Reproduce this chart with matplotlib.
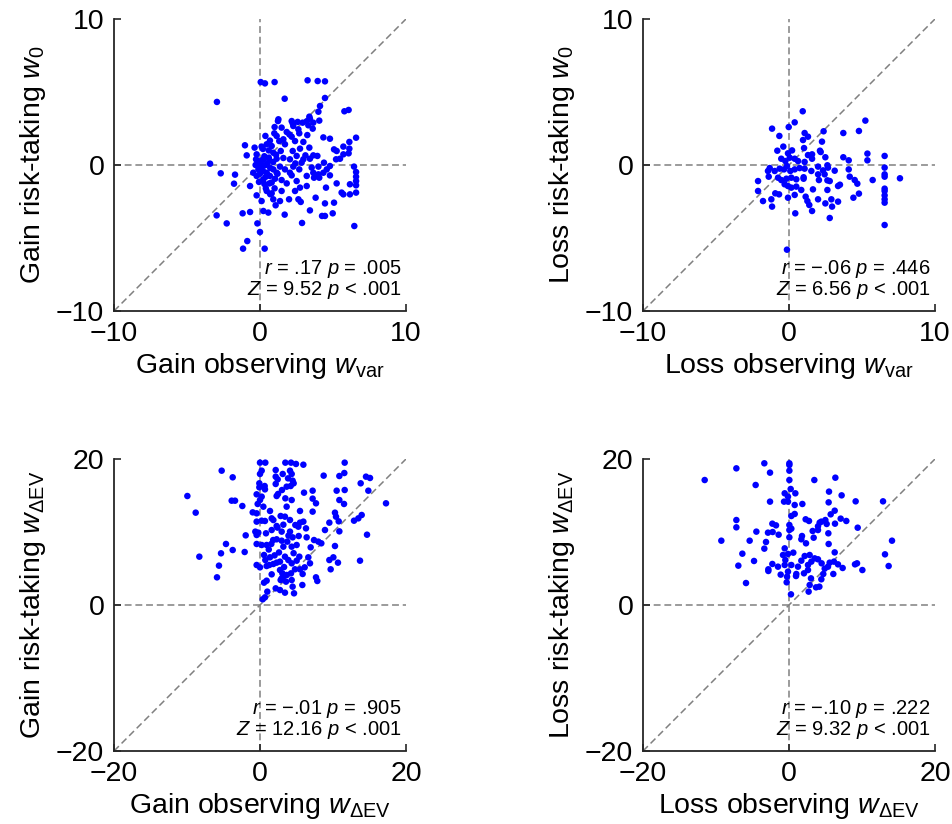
import matplotlib
matplotlib.use('Agg')
from matplotlib import pyplot as plt

plt.rcParams['font.family'] = ['Liberation Sans', 'DejaVu Sans']
plt.rcParams['mathtext.fontset'] = 'custom'
plt.rcParams['mathtext.rm'] = 'Liberation Sans'
plt.rcParams['mathtext.it'] = 'Liberation Sans:italic'
plt.rcParams['mathtext.bf'] = 'Liberation Sans:bold'

# gain: observing w_var vs risk-taking w_0
gain_var_x = [0.05, 0.34, 1.0, 3.26, 3.95, 4.45, -2.95, 1.69, 4.45, 4.11, 4.0, 5.78, 6.07,
              1.26, 1.23, 2.17, 2.24, 2.58, 2.92, 3.2, 3.42, 3.65, 4.06, 3.38, 1.0, 1.48,
              2.28, 2.63, 3.31, 3.61, 0.37, 0.98, 1.14, 1.83, 2.01, 2.17, 2.69, 3.24, 4.34,
              4.79, 6.58, 6.12, 0.68, 0.46, 0.8, 1.32, 1.6, 1.71, 2.4, 2.97, 2.74, 3.38,
              -1.03, -0.37, 0.11, 5.07, 5.25, 5.71, 6.12, 6.07, 5.71, 5.48, 5.21, -0.91,
              -0.23, 0.91, 1.42, 2.24, 2.51, 3.11, 3.65, 3.93, 2.97, 3.42, -0.27, 0.23, 0.64,
              1.14, 1.6, 2.05, 2.42, 2.85, 4.38, 4.79, 6.44, 6.58, 6.58, 6.58, 6.58, 6.16,
              6.58, 6.16, 5.71, -3.42, -2.69, -1.71, -1.78, -0.68, -0.46, -0.11, 0.11, 0.34,
              0.46, 0.68, 0.91, 1.14, 1.37, 1.71, 2.05, 2.28, 2.69, 3.2, 3.65, 4.0, 4.34,
              4.79, 4.06, 3.54, 4.0, 4.57, -0.23, -0.07, 0.23, 0.64, 1.03, 1.48, 1.83, 2.17,
              2.51, 2.74, 3.2, 3.7, 4.52, 5.25, -0.23, 0.11, 0.46, 0.8, 0.91, 1.07, 1.37,
              1.48, 1.99, 2.4, 2.63, 2.79, 3.81, 4.45, 5.07, 5.59, -2.97, -2.28, -1.19,
              -0.68, -0.18, 0.23, 0.57, 1.69, 2.88, 3.42, 4.25, 4.45, 4.98, 6.46, 0.0,
              -0.87, -1.16, 0.32, 0.1, 0.3, 0.5, 0.7, 0.2, 0.4, -0.1, 0.6, 0.9, 1.1, 0.3,
              0.8, 0.0, -0.3, 1.2, 0.6, 0.2, 1.0, 0.4, 0.7]
gain_w0_y = [5.68, 5.59, 5.68, 5.8, 5.75, 5.73, 4.32, 4.54, 4.59, 4.04, 3.65, 3.68, 3.77,
             3.13, 3.01, 3.01, 2.85, 2.95, 2.9, 2.99, 3.17, 2.9, 3.04, 3.31, 2.6, 2.56,
             2.67, 2.44, 2.72, 2.49, 1.99, 2.17, 1.99, 2.26, 2.1, 1.94, 2.17, 2.05, 1.89,
             1.8, 1.87, 1.58, 1.67, 1.42, 1.3, 1.64, 1.76, 1.42, 1.64, 1.58, 1.12, 1.19,
             1.35, 1.19, 1.26, 1.07, 0.96, 1.26, 1.12, 0.8, 0.73, 0.43, 0.39, 0.66, 0.73,
             0.84, 0.96, 0.96, 0.62, 0.66, 0.66, 0.62, 0.39, 0.43, 0.39, 0.39, 0.34, 0.43,
             0.48, 0.39, 0.11, 0.16, 0.16, -0.07, -0.11, -0.48, -0.8, -1.1, -1.39, -1.32,
             -1.89, -2.01, -2.01, 0.09, -0.57, -0.66, -1.28, -1.44, -0.53, -0.3, -0.07,
             -0.02, -0.53, -0.75, -0.3, -0.53, -0.11, -0.3, -0.53, -0.11, -0.3, -0.75,
             -0.53, -0.64, -0.53, -0.71, -0.87, -0.18, -0.11, -0.3, -0.75, -1.16, -0.98,
             -1.26, -0.94, -1.03, -1.26, -0.71, -1.1, -1.55, -1.44, -0.87, -1.55, -1.26,
             -2.08, -2.47, -1.78, -1.94, -2.35, -2.76, -2.47, -1.78, -2.35, -1.78, -2.35,
             -2.53, -2.24, -2.63, -2.58, -1.89, -3.45, -4.0, -3.31, -3.22, -4.0, -3.15,
             -3.26, -3.4, -3.97, -3.11, -3.49, -3.49, -3.31, -4.18, -4.59, -5.21, -5.73,
             -5.73, 0.3, 0.6, 0.1, -0.2, -0.4, -0.8, 0.1, 0.5, 0.2, 0.7, -1.3, -1.2, -0.6,
             0.0, -0.6, 1.0, 1.1, -1.6, -1.6, -2.0]

# loss: observing w_var vs risk-taking w_0
loss_var_x = [0.94, 0.39, 5.23, -1.16, -0.02, -0.66, 1.07, 1.3, 0.96, 2.37, 3.72, 4.79, 2.26,
              -0.39, -0.8, 0.21, -0.07, 1.03, 1.58, 1.3, 2.12, 2.17, 5.37, 5.37, 3.72, 4.09,
              6.55, 2.49, -0.53, -0.25, 0.05, 0.39, 0.62, 1.07, 1.58, 2.63, 2.67, -1.32,
              -1.44, -0.98, -0.64, -0.34, -0.14, 0.09, 0.39, 0.73, 1.07, 1.53, 1.99, 2.33,
              3.13, 4.09, 6.55, 6.55, 6.55, 7.6, 5.73, -2.12, -1.39, -0.75, -0.53, -0.18,
              0.16, 0.5, 1.0, 1.0, 1.99, 2.05, 2.44, 2.63, 2.79, 4.16, 4.5, 4.68, 6.55, 6.55,
              -2.12, -1.78, -1.21, -1.16, -0.94, -0.68, -0.3, -0.07, 0.16, 0.5, 0.84, -0.07,
              0.39, 1.14, 1.26, 1.39, 1.64, 1.99, 2.49, 2.63, 2.9, 2.95, 3.36, 3.49, 3.36,
              4.41, 4.79, 6.55, 6.55, 6.55, 0.43, 1.58, 2.79, 6.55, -0.14]
loss_w0_y = [3.68, 2.92, 3.04, 2.49, 2.6, 1.99, 2.19, 1.94, 1.71, 2.31, 2.19, 2.33, 1.6,
             1.26, 0.98, 1.0, 0.8, 1.16, 0.73, 0.68, 0.98, 0.89, 0.78, 0.32, 0.53, 0.32,
             0.62, 0.53, 0.43, 0.27, 0.5, 0.43, 0.27, 0.21, 0.43, -0.02, -0.18, -0.21,
             -0.41, -0.41, -0.25, -0.3, -0.07, -0.41, -0.3, -0.21, -0.25, -0.41, -0.11,
             -0.37, -0.39, -0.3, -0.18, -0.64, -0.8, -0.91, -1.03, -1.1, -0.8, -0.87, -1.03,
             -0.94, -0.87, -0.98, -0.84, -0.94, -0.64, -1.03, -0.64, -1.05, -1.1, -0.8,
             -1.03, -1.28, -1.62, -1.78, -1.78, -2.47, -2.35, -2.85, -1.94, -2.01, -1.32,
             -1.44, -1.55, -1.48, -1.71, -2.24, -2.05, -2.17, -2.47, -2.74, -1.67, -2.35,
             -2.63, -1.71, -2.35, -2.85, -1.44, -1.35, -2.51, -2.24, -1.96, -2.08, -2.35,
             -2.58, -3.31, -3.15, -3.63, -4.11, -5.8]

# gain: observing w_dEV vs risk-taking w_dEV
gain_dev_x = [0, 0.73, 3.47, 4.25, 4.93, 5.94, 11.6, -5.25, -3.74, 0.23, 0, 2.15, 3.11, 4.11,
              4.34, 3.84, 2.15, 2.42, 2.15, 4.47, 4.61, 3.65, 3.01, 2.47, 2.28, 4.2, 8.72,
              10.87, 11.55, 13.79, 14.52, 15.07, 11.6, 10.5, 14.84, 17.26, 14.66, -9.95,
              -8.81, -3.88, -3.42, -2.42, -0.09, 0.64, -0.09, 0.68, -0.46, 0.23, 0, -0.32,
              0.46, 3.47, 4.34, 6.03, 7.21, 7.21, 7.67, 10.87, 11.51, 7.21, 5.48, 3.65, -1.0,
              -0.46, 1.37, 1.6, 1.83, 2.83, 3.42, 4.11, 4.84, 5.48, 5.94, 6.3, -0.46, 0.23,
              0.68, -0.64, -0.23, 0.82, 1.6, 2.28, 2.97, 4.11, 5.25, 9.5, 10.27, 10.41, 10.78,
              12.88, 13.47, 13.93, 8.9, 10.87, -1.96, -4.66, -3.74, -2.1, -5.34, -5.62, -5.89,
              -8.31, -0.46, -0.46, 0.23, 0.91, 1.55, 2.28, 2.97, 3.2, 3.74, 4.34, 5.02, 4.47,
              5.3, 6.39, 6.94, 7.4, 7.99, 8.4, 10.27, -0.46, 0, 0.55, 0.73, 1.37, 1.83, 2.28,
              2.74, 3.42, 3.88, 4.34, 5.02, 5.39, 6.62, 6.85, 6.12, 5.84, 9.5, 10.05, 10.68,
              13.7, 9.68, 0.91, 1.28, 2.74, 3.06, 3.2, 3.65, 4.25, 4.79, 5.48, 2.83, 3.56,
              4.34, 0.55, 0.91, 2.15, 2.74, 3.42, 4.66, 4.47, 5.8, 7.67, 7.85, 1.0, 0.37,
              0.68, 2.97, 1.8, 2.6, 3.9, 1.2, 2.0, 4.6, 3.3, 1.6, 2.4, 3.2]
gain_dev_y = [19.5, 19.5, 19.5, 19.5, 19.32, 19.22, 19.5, 18.4, 17.49, 18.4, 17.95, 18.49,
              17.95, 18.4, 17.95, 17.35, 17.58, 17.21, 16.58, 17.03, 16.67, 16.21, 15.75,
              15.21, 14.93, 16.3, 17.72, 17.67, 18.08, 16.67, 17.58, 17.4, 15.75, 15.66,
              15.66, 13.93, 9.63, 14.93, 12.65, 14.29, 14.29, 13.56, 16.67, 16.3, 16.12,
              15.84, 15.16, 14.84, 14.38, 13.84, 13.47, 14.61, 14.38, 15.39, 15.66, 14.57,
              13.93, 14.38, 13.84, 12.79, 12.88, 13.47, 12.69, 12.56, 12.88, 11.87, 11.64,
              12.19, 12.1, 11.64, 10.96, 11.28, 11.42, 10.5, 11.42, 11.55, 11.51, 10.05,
              9.91, 9.82, 10.27, 10.82, 10.05, 10.05, 10.73, 11.28, 12.65, 12.1, 11.46,
              11.55, 11.87, 12.33, 10.27, 10.09, 9.54, 8.36, 7.53, 7.26, 7.08, 5.39, 3.79,
              6.62, 9.59, 8.36, 8.22, 8.22, 8.36, 9.0, 8.81, 7.99, 8.68, 7.99, 8.22, 9.27,
              9.45, 9.27, 7.9, 8.9, 8.68, 8.45, 8.08, 5.48, 5.16, 6.85, 6.16, 6.53, 5.62,
              5.8, 5.94, 6.62, 6.16, 5.71, 6.07, 6.62, 6.53, 5.71, 5.16, 4.25, 6.16, 6.53,
              5.8, 6.07, 4.89, 5.34, 5.48, 4.79, 4.34, 3.88, 4.11, 4.34, 4.89, 4.89, 3.42,
              3.2, 3.42, 3.06, 3.33, 2.28, 2.05, 1.69, 1.6, 2.51, 2.74, 3.79, 3.29, 1.83,
              0.78, 1.05, 3.65, 8.9, 7.2, 9.5, 7.6, 6.8, 7.1, 5.2, 4.2, 10.6, 11.0]

# loss: observing w_dEV vs risk-taking w_dEV
loss_dev_x = [-11.55, -7.21, -3.38, -2.6, -4.57, 0.05, 0.05, 0.05, 0.05, 0.23, -0.59, -0.14,
              0.87, -0.68, -0.14, -2.6, 0.78, 1.83, 3.47, 6.35, 5.48, 7.21, 5.43, 9.13,
              12.88, 6.26, 5.71, 7.08, 7.85, 0.32, 0.78, -7.21, -7.21, -4.47, -5.39, -9.27,
              -6.39, -4.79, -6.94, -5.89, -3.38, -3.15, -2.88, -2.28, -1.78, -2.24, -1.42,
              0.05, 0.05, 0.32, 0.05, 1.78, 1.69, 2.33, 2.28, 2.74, 3.38, 3.24, 3.97, 4.2,
              4.43, 4.98, 5.16, 5.39, 3.97, 6.3, 9.41, 5.43, 6.26, 14.11, 13.15, 13.65,
              -0.59, -0.82, -0.14, 0.59, -0.5, 0.32, 1.23, 1.69, 2.15, 2.83, 3.06, 3.52,
              3.97, 4.47, 4.89, 4.7, 5.34, 5.57, 6.16, 6.71, 7.35, 9.04, 9.32, 10.05, 6.07,
              2.6, 2.6, 2.05, 0.96, 1.0, -0.14, -0.59, -2.83, -2.28, -1.51, -1.14, -2.83,
              -0.27, -0.32, 3.01, 2.83, 3.7, 4.43, 4.16, 2.69, 0.27]
loss_dev_y = [17.12, 18.72, 19.41, 18.13, 16.44, 19.41, 19.18, 18.4, 17.12, 15.89, 15.3,
              14.84, 15.3, 14.16, 14.16, 14.16, 13.7, 13.84, 17.12, 17.44, 15.53, 15.02,
              14.06, 14.2, 14.2, 12.92, 12.42, 11.83, 11.51, 12.19, 12.47, 11.64, 10.64,
              10.05, 8.81, 8.81, 7.03, 6.03, 5.39, 3.01, 7.72, 8.63, 9.91, 11.14, 10.91, 10.0,
              9.63, 10.96, 10.27, 10.46, 9.27, 9.45, 9.0, 8.45, 11.74, 11.51, 9.22, 10.14,
              10.78, 11.28, 11.42, 11.64, 11.1, 9.82, 10.27, 11.14, 10.59, 8.36, 7.21, 8.81,
              6.94, 5.34, 7.76, 6.85, 6.99, 7.17, 6.16, 5.48, 5.25, 6.07, 6.71, 6.85, 5.94,
              6.39, 6.26, 5.71, 4.98, 4.25, 5.25, 5.8, 5.94, 5.57, 5.07, 5.57, 5.71, 4.79,
              4.25, 5.48, 4.79, 4.34, 3.97, 4.25, 4.57, 5.48, 4.89, 5.62, 5.25, 4.16, 4.66,
              3.88, 3.11, 3.65, 2.74, 2.42, 3.52, 2.51, 1.83, 1.46]

panels = [
    (gain_var_x, gain_w0_y, 10, r'Gain observing $w_{\mathrm{var}}$', r'Gain risk-taking $w_0$',
     [r'$r$ = .17 $p$ = .005', r'$Z$ = 9.52 $p$ < .001']),
    (loss_var_x, loss_w0_y, 10, r'Loss observing $w_{\mathrm{var}}$', r'Loss risk-taking $w_0$',
     [r'$r$ = −.06 $p$ = .446', r'$Z$ = 6.56 $p$ < .001']),
    (gain_dev_x, gain_dev_y, 20, r'Gain observing $w_{\mathrm{\Delta EV}}$',
     r'Gain risk-taking $w_{\mathrm{\Delta EV}}$',
     [r'$r$ = −.01 $p$ = .905', r'$Z$ = 12.16 $p$ < .001']),
    (loss_dev_x, loss_dev_y, 20, r'Loss observing $w_{\mathrm{\Delta EV}}$',
     r'Loss risk-taking $w_{\mathrm{\Delta EV}}$',
     [r'$r$ = −.10 $p$ = .222', r'$Z$ = 9.32 $p$ < .001']),
]

W, H = 952, 824
boxes = [(114, 19), (643, 19), (114, 459), (643, 459)]
fig = plt.figure(figsize=(W / 100, H / 100), dpi=100)

for (x, y, lim, xl, yl, stats), (left, top) in zip(panels, boxes):
    ax = fig.add_axes([left / W, 1 - (top + 292) / H, 292 / W, 292 / H])
    dash = dict(color='#808080', lw=1.1, dashes=(4.5, 2.5), zorder=1)
    ax.plot([-lim, lim], [0, 0], **dash)
    ax.plot([0, 0], [-lim, lim], **dash)
    ax.plot([-lim, lim], [-lim, lim], **dash)
    ax.scatter(x, y, s=22, color='#0000ff', edgecolors='none', zorder=3)
    ax.set_xlim(-lim, lim)
    ax.set_ylim(-lim, lim)
    ax.set_xticks([-lim, 0, lim])
    ax.set_yticks([-lim, 0, lim])
    ax.tick_params(direction='in', length=5, width=1.2, labelsize=20.5, pad=7,
                   colors='#262626', labelcolor='black')
    for s in ['top', 'right']:
        ax.spines[s].set_visible(False)
    for s in ['left', 'bottom']:
        ax.spines[s].set_linewidth(1.3)
        ax.spines[s].set_color('#262626')
    ax.set_xlabel(xl, fontsize=20.5, labelpad=3)
    ax.set_ylabel(yl, fontsize=20.5, labelpad=6)
    ax.text(0.985, 0.125, stats[0], transform=ax.transAxes, ha='right', va='baseline',
            fontsize=14.5)
    ax.text(0.985, 0.055, stats[1], transform=ax.transAxes, ha='right', va='baseline',
            fontsize=14.5)

fig.savefig('out.png', dpi=100)
